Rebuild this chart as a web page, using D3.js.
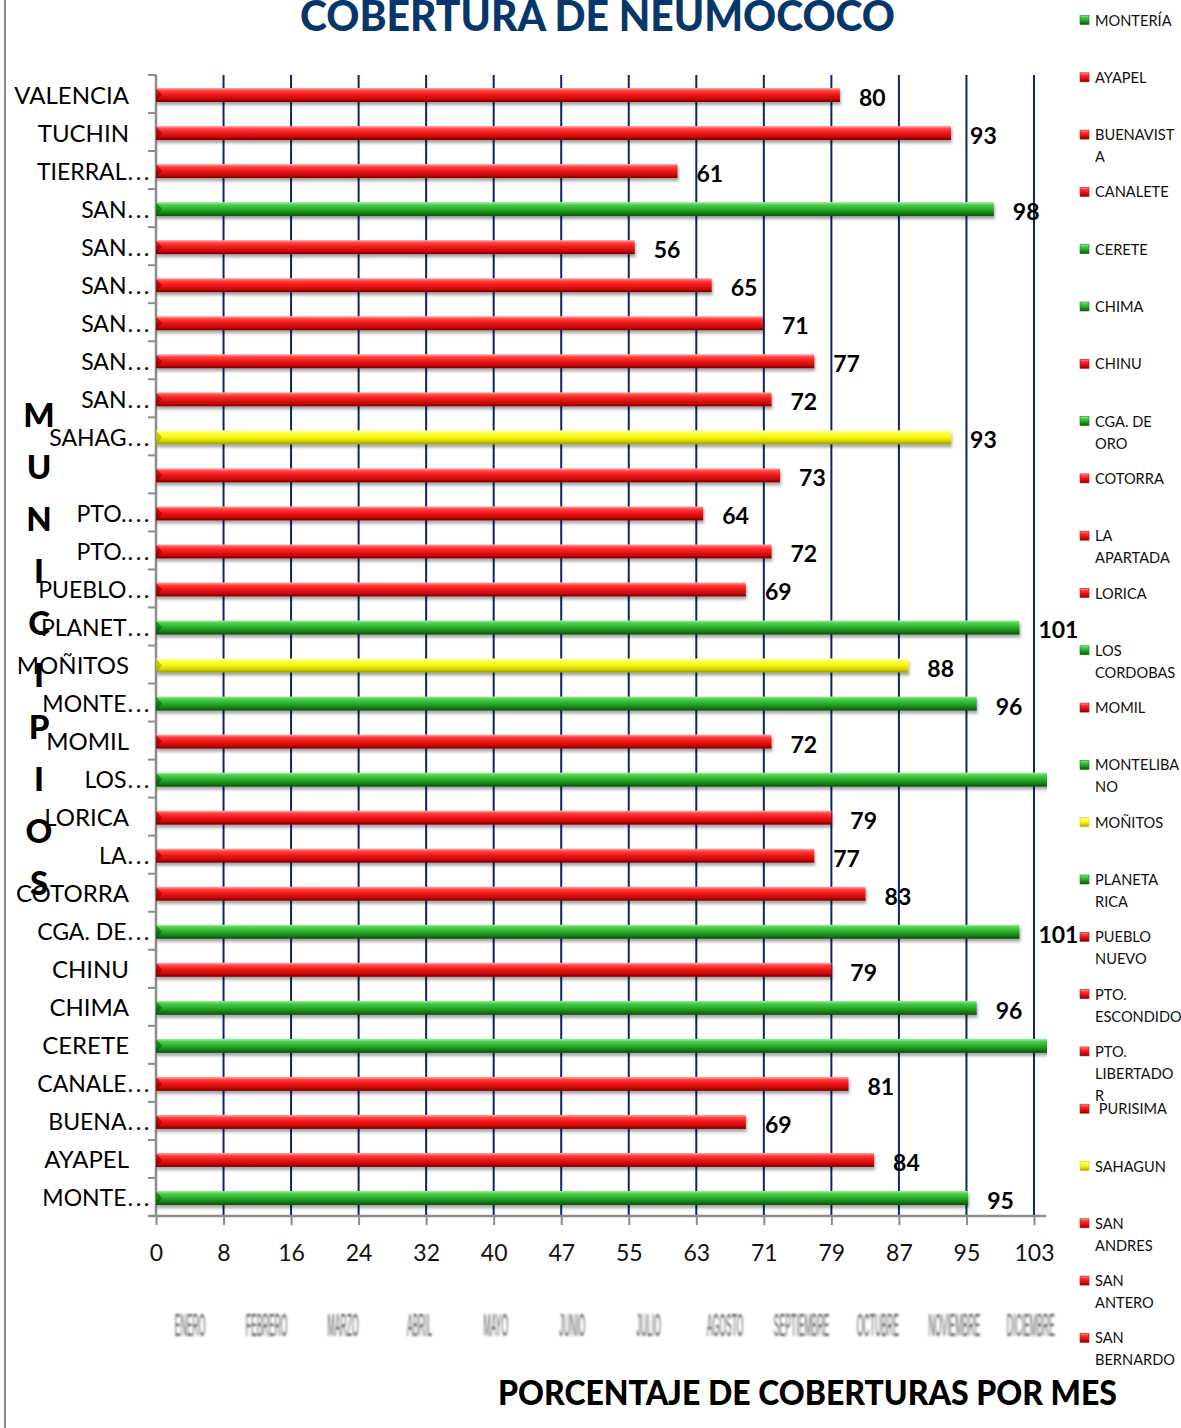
<!DOCTYPE html>
<html>
<head>
<meta charset="utf-8">
<script src="https://cdn.jsdelivr.net/npm/d3@7"></script>
<style>
  html, body { margin: 0; padding: 0; background: #fff; }
  svg { display: block; }
</style>
</head>
<body>
<svg id="chart" width="1181" height="1428"></svg>
<script>
// Municipalities, bottom to top as they appear on the category axis ("…" marks a cut label)
const municipios = ["MONTE…", "AYAPEL", "BUENA…", "CANALE…", "CERETE", "CHIMA", "CHINU",
  "CGA. DE…", "COTORRA", "LA…", "LORICA", "LOS…", "MOMIL", "MONTE…", "MOÑITOS", "PLANET…",
  "PUEBLO…", "PTO.…", "PTO.…", "", "SAHAG…", "SAN…", "SAN…", "SAN…", "SAN…", "SAN…", "SAN…",
  "TIERRAL…", "TUCHIN", "VALENCIA"];

// Coverage percentage per municipality (CERETE and LOS CORDOBAS run past the axis)
const cobertura = [95, 84, 69, 81, 108, 96, 79, 101, 83, 77, 79, 106, 72, 96, 88, 101,
  69, 72, 64, 73, 93, 72, 77, 71, 65, 56, 98, 61, 93, 80];

// Traffic-light status per municipality
const estado = ["verde", "rojo", "rojo", "rojo", "verde", "verde", "rojo", "verde", "rojo", "rojo",
  "rojo", "verde", "rojo", "verde", "amarillo", "verde", "rojo", "rojo", "rojo", "rojo",
  "amarillo", "rojo", "rojo", "rojo", "rojo", "rojo", "verde", "rojo", "rojo", "rojo"];

// Series names shown in the legend (line breaks as wrapped)
const leyenda = ["MONTERÍA", "AYAPEL", "BUENAVIST\nA", "CANALETE", "CERETE", "CHIMA", "CHINU",
  "CGA. DE\nORO", "COTORRA", "LA\nAPARTADA", "LORICA", "LOS\nCORDOBAS", "MOMIL", "MONTELIBA\nNO",
  "MOÑITOS", "PLANETA\nRICA", "PUEBLO\nNUEVO", "PTO.\nESCONDIDO", "PTO.\nLIBERTADO\nR",
  " PURISIMA", "SAHAGUN", "SAN\nANDRES", "SAN\nANTERO", "SAN\nBERNARDO"];

// Value-axis ticks (major unit 7.9, labels rounded)
const xTicks = [0, 7.9, 15.8, 23.7, 31.6, 39.5, 47.4, 55.3, 63.2, 71.1, 79, 86.9, 94.8, 102.7];

// Secondary month labels under the value axis
const meses = ["ENERO", "FEBRERO", "MARZO", "ABRIL", "MAYO", "JUNIO", "JULIO", "AGOSTO",
  "SEPTIEMBRE", "OCTUBRE", "NOVIEMBRE", "DICIEMBRE"];

const titulo = "COBERTURA DE NEUMOCOCO";
const tituloX = "PORCENTAJE DE COBERTURAS POR MES";
const tituloY = "MUNICIPIOS";

// ---- layout ----
const svg = d3.select("#chart");
const plot = { left: 156, right: 1046, top: 75, bottom: 1216 };
const FONT = "Lato, 'Open Sans', sans-serif";

const x = d3.scaleLinear().domain([0, 104.1]).range([plot.left, plot.left + 104.1 * 8.549]);
const y = d3.scaleBand().domain(d3.range(municipios.length)).range([plot.bottom, plot.top]);

const paleta = {
  rojo:     ["#ffa8a8", "#ff4040", "#f21818", "#c40808", "#7c0000"],
  verde:    ["#a0eca0", "#4acf4a", "#2cb02c", "#167e16", "#0a500a"],
  amarillo: ["#ffffb8", "#ffff40", "#f6f618", "#d0d000", "#999900"]
};

const defs = svg.append("defs");
Object.entries(paleta).forEach(([k, c]) => {
  const g = defs.append("linearGradient").attr("id", "grad-" + k)
    .attr("x1", 0).attr("y1", 0).attr("x2", 0).attr("y2", 1);
  [0, 0.2, 0.48, 0.78, 1].forEach((o, i) =>
    g.append("stop").attr("offset", o).attr("stop-color", c[i]));
});
const sh = defs.append("filter").attr("id", "sombra")
  .attr("x", "-2%").attr("y", "-50%").attr("width", "104%").attr("height", "220%");
sh.append("feDropShadow").attr("dx", 1).attr("dy", 3).attr("stdDeviation", 1.6)
  .attr("flood-color", "#000").attr("flood-opacity", 0.35);
defs.append("filter").attr("id", "difuso")
  .append("feGaussianBlur").attr("stdDeviation", 0.9);
defs.append("clipPath").attr("id", "recorte")
  .append("rect").attr("x", plot.left).attr("y", plot.top - 5)
  .attr("width", plot.right + 1 - plot.left).attr("height", plot.bottom - plot.top + 15);

// chart frame left edge
svg.append("line").attr("x1", 5).attr("x2", 5).attr("y1", 0).attr("y2", 1428)
  .attr("stroke", "#8a8a8a").attr("stroke-width", 2);

// title
svg.append("text").attr("x", 300).attr("y", 31)
  .attr("textLength", 595).attr("lengthAdjust", "spacingAndGlyphs")
  .attr("font-family", FONT).attr("font-weight", 900).attr("font-size", 42)
  .attr("fill", "#07376a").text(titulo);

// vertical grid lines (navy)
svg.append("g").selectAll("line").data(xTicks.slice(1)).join("line")
  .attr("x1", d => x(d)).attr("x2", d => x(d))
  .attr("y1", plot.top).attr("y2", plot.bottom)
  .attr("stroke", "#0b2566").attr("stroke-width", 2);

// value axis
const xAxis = svg.append("g").attr("transform", `translate(0,${plot.bottom})`)
  .call(d3.axisBottom(x).tickValues(xTicks).tickFormat(d => Math.round(d)).tickSize(9).tickPadding(20));
xAxis.select(".domain").attr("d", `M${plot.left - 8},0H${plot.right}`)
  .attr("stroke", "#8c8c8c").attr("stroke-width", 2.5);
xAxis.selectAll(".tick line").attr("stroke", "#8c8c8c").attr("stroke-width", 2);
xAxis.selectAll(".tick text").attr("font-family", FONT).attr("font-size", 23)
  .attr("fill", "#111");

// category axis line and ticks at band boundaries
svg.append("line").attr("x1", plot.left).attr("x2", plot.left)
  .attr("y1", plot.top).attr("y2", plot.bottom)
  .attr("stroke", "#8c8c8c").attr("stroke-width", 2.5);
svg.append("g").selectAll("line").data(d3.range(municipios.length)).join("line")
  .attr("x1", plot.left - 8).attr("x2", plot.left)
  .attr("y1", d => y(d)).attr("y2", d => y(d))
  .attr("stroke", "#8c8c8c").attr("stroke-width", 2);

// bars
const barH = 14;
const barras = svg.append("g").attr("clip-path", "url(#recorte)");
barras.selectAll("rect").data(cobertura).join("rect")
  .attr("x", x(0))
  .attr("y", (d, i) => y(i) + y.bandwidth() / 2 + 1 - barH / 2)
  .attr("width", d => x(d) - x(0))
  .attr("height", barH)
  .attr("fill", (d, i) => `url(#grad-${estado[i]})`)
  .attr("filter", "url(#sombra)");
// darker bevel at the base of each bar
barras.selectAll("path").data(cobertura).join("path")
  .attr("d", (d, i) => {
    const t = y(i) + y.bandwidth() / 2 + 1 - barH / 2;
    return `M${x(0)},${t}L${x(0) + 6},${t + barH / 2}L${x(0)},${t + barH}Z`;
  })
  .attr("fill", (d, i) => paleta[estado[i]][4]).attr("opacity", 0.55);

// value labels
svg.append("g").selectAll("text").data(cobertura.map((v, i) => ({ v, i })).filter(d => d.v <= x.domain()[1]))
  .join("text")
  .attr("x", d => x(d.v) + 19)
  .attr("y", d => y(d.i) + y.bandwidth() / 2 + 12)
  .attr("font-family", FONT).attr("font-weight", 700).attr("font-size", 23)
  .attr("fill", "#000").text(d => d.v);

// category labels
const cat = svg.append("g").attr("font-family", FONT).attr("font-size", 24).attr("fill", "#000");
municipios.forEach((m, i) => {
  const cy = y(i) + y.bandwidth() / 2 + 9.5;
  if (m.endsWith("…")) {
    const t = cat.append("text").attr("x", 152).attr("y", cy).attr("text-anchor", "end");
    t.append("tspan").attr("font-size", 23).text(m.slice(0, -1));
    t.append("tspan").attr("dx", 1).attr("letter-spacing", 2.5).text("...");
  } else {
    cat.append("text").attr("x", 129).attr("y", cy).attr("text-anchor", "end").text(m);
  }
});

// stacked vertical axis title
svg.append("g").selectAll("text").data(tituloY.split("")).join("text")
  .attr("x", 39).attr("y", (d, i) => 427 + i * 52)
  .attr("text-anchor", "middle")
  .attr("font-family", FONT).attr("font-weight", 900).attr("font-size", 33)
  .attr("fill", "#000").text(d => d);

// month labels (compressed and soft)
const m = d3.scaleBand().domain(meses).range([152, 1069]);
svg.append("g").attr("filter", "url(#difuso)").selectAll("text").data(meses).join("text")
  .attr("transform", d => `translate(${m(d) + m.bandwidth() / 2},1336) scale(0.27,1)`)
  .attr("text-anchor", "middle")
  .attr("font-family", "'Liberation Sans', sans-serif").attr("font-size", 32)
  .attr("fill", "#3a3a3a").attr("opacity", 0.85).text(d => d);

// value-axis title
svg.append("text").attr("x", 498).attr("y", 1405)
  .attr("textLength", 619).attr("lengthAdjust", "spacingAndGlyphs")
  .attr("font-family", FONT).attr("font-weight", 900).attr("font-size", 34)
  .attr("fill", "#000").text(tituloX);

// legend
const ley = svg.append("g").attr("font-family", FONT).attr("font-size", 14.6).attr("fill", "#111");
leyenda.forEach((nombre, i) => {
  const cy = 20 + i * 57.3;
  ley.append("rect").attr("x", 1080).attr("y", cy - 4.5).attr("width", 9).attr("height", 9)
    .attr("fill", `url(#grad-${estado[i]})`).attr("stroke", paleta[estado[i]][3]).attr("stroke-width", 0.6);
  const t = ley.append("text").attr("x", 1095).attr("y", cy + 5.5);
  nombre.split("\n").forEach((ln, j) =>
    t.append("tspan").attr("x", 1095).attr("dy", j ? 22 : 0).attr("xml:space", "preserve").text(ln));
});
</script>
</body>
</html>
